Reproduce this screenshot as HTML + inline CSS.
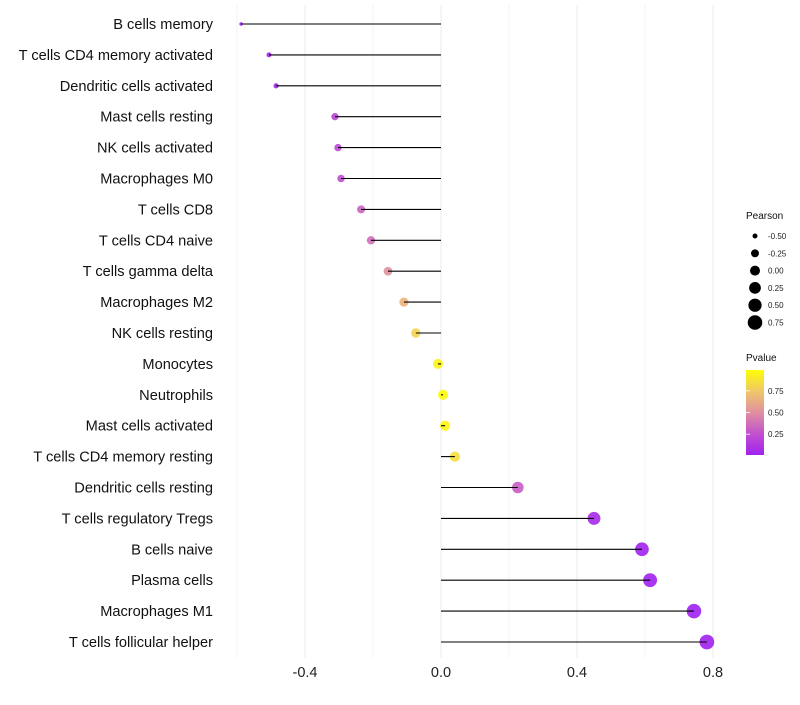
<!DOCTYPE html>
<html><head><meta charset="utf-8"><style>
body{margin:0;background:#fff;font-family:"Liberation Sans",sans-serif}
</style></head><body>
<svg id="c" width="800" height="700" xmlns="http://www.w3.org/2000/svg"></svg>
<script>
const categories=["B cells memory","T cells CD4 memory activated","Dendritic cells activated","Mast cells resting","NK cells activated","Macrophages M0","T cells CD8","T cells CD4 naive","T cells gamma delta","Macrophages M2","NK cells resting","Monocytes","Neutrophils","Mast cells activated","T cells CD4 memory resting","Dendritic cells resting","T cells regulatory  Tregs ","B cells naive","Plasma cells","Macrophages M1","T cells follicular helper"];
const pearson=[-0.588,-0.506,-0.485,-0.312,-0.303,-0.294,-0.235,-0.206,-0.156,-0.109,-0.074,-0.009,0.006,0.012,0.041,0.226,0.45,0.591,0.615,0.744,0.782];
const pvalue=[0.01,0.02,0.03,0.2,0.22,0.24,0.33,0.37,0.5,0.65,0.8,0.95,0.98,0.96,0.85,0.3,0.05,0.01,0.005,0.002,0.001];
const xTicks=[-0.4,0,0.4,0.8];
const xTickLabels=["-0.4","0.0","0.4","0.8"];
const xMinor=[-0.6,-0.2,0.2,0.6];
const sizeLegend=[-0.5,-0.25,0,0.25,0.5,0.75];
const sizeLegendLabels=["-0.50","-0.25","0.00","0.25","0.50","0.75"];
const colorLegend=[0.75,0.5,0.25];
const colorLegendLabels=["0.75","0.50","0.25"];

const svg=document.getElementById('c');
const NS="http://www.w3.org/2000/svg";
const x=v=>441+v*340;
const y=i=>24+i*30.9;
const r=v=>Math.max(1,Math.sqrt(Math.max(0,25+37.4*v)));
const stops=[[160,32,240],[192,80,208],[224,144,160],[240,200,104],[255,255,0]];
function col(p){p=Math.min(1,Math.max(0,p));const s=p*4,k=Math.min(3,Math.floor(s)),t=s-k;
 const c=stops[k].map((v,j)=>Math.round(v+(stops[k+1][j]-v)*t));return `rgb(${c})`;}
function el(tag,attrs,txt){const e=document.createElementNS(NS,tag);for(const k in attrs)e.setAttribute(k,attrs[k]);if(txt!==undefined)e.textContent=txt;svg.appendChild(e);return e;}

xMinor.forEach(v=>{const g=el('line',{x1:x(v),x2:x(v),y1:5,y2:658,stroke:'#f3f3f3','stroke-width':1});

});
xTicks.forEach((v,i)=>{const g=el('line',{x1:x(v),x2:x(v),y1:5,y2:658,stroke:'#ebebeb','stroke-width':1});


const t=el('text',{x:x(v),y:677,'font-size':14.5,'text-anchor':'middle',fill:'#222'},xTickLabels[i]);

});

categories.forEach((c,i)=>{
 const t=el('text',{x:213,y:y(i)+5,'font-size':14.6,'text-anchor':'end',fill:'#111'},c);
 
 
 const d=el('circle',{cx:x(pearson[i]),cy:y(i),r:r(pearson[i]),fill:col(pvalue[i]),'fill-opacity':0.9});
 
 
 const l=el('line',{x1:x(0),x2:x(pearson[i]),y1:y(i),y2:y(i),stroke:'#000','stroke-width':1.1});
 
 
});

const lt=el('text',{x:746,y:219,'font-size':10,fill:'#111'},'Pearson');


sizeLegend.forEach((v,i)=>{const cy=236+i*17.3;
 const c=el('circle',{cx:755,cy:cy,r:r(v),fill:'#000'});
 
 
 const t=el('text',{x:768,y:cy+3,'font-size':8,fill:'#222'},sizeLegendLabels[i]);
 
 });

const ct=el('text',{x:746,y:361,'font-size':10,fill:'#111'},'Pvalue');


const defs=el('defs',{});
const lg=document.createElementNS(NS,'linearGradient');lg.setAttribute('id','g');lg.setAttribute('x1',0);lg.setAttribute('x2',0);lg.setAttribute('y1',1);lg.setAttribute('y2',0);
[0,0.25,0.5,0.75,1].forEach(o=>{const s=document.createElementNS(NS,'stop');s.setAttribute('offset',o);s.setAttribute('stop-color',col(0.01+o*0.98));lg.appendChild(s);});
defs.appendChild(lg);
const bar=el('rect',{x:746,y:370,width:18,height:85,fill:'url(#g)'});


colorLegend.forEach((v,i)=>{const cy=455-(v-0.01)/0.98*85;
 const tk=el('line',{x1:746,x2:750,y1:cy,y2:cy,stroke:'#fff','stroke-width':0.8});
 
 
 const t=el('text',{x:768,y:cy+3,'font-size':8,fill:'#222'},colorLegendLabels[i]);
 
 });
</script>
</body></html>
